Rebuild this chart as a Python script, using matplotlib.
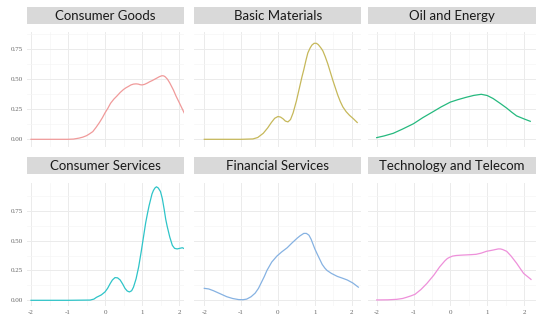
import numpy as np
import matplotlib
matplotlib.use("Agg")
import matplotlib.pyplot as plt

W, H = 550, 329

titles = ["Consumer Goods", "Basic Materials", "Oil and Energy",
          "Consumer Services", "Financial Services", "Technology and Telecom"]
colors = ["#F09A9A", "#C6B85A", "#25B97E", "#2EC4C8", "#86B2E2", "#EE90DA"]

# density curves (x, y)
goods_x = [-2.0, -1.5, -1.0, -0.85, -0.7, -0.6, -0.5, -0.42, -0.33, -0.24, -0.15, -0.07, 0.0, 0.08, 0.15, 0.24, 0.32, 0.41, 0.5, 0.57, 0.63, 0.7, 0.77, 0.84, 0.9, 0.95, 1.0, 1.07, 1.14, 1.21, 1.28, 1.34, 1.4, 1.47, 1.54, 1.59, 1.63, 1.69, 1.75, 1.8, 1.85, 1.92, 2.0, 2.07, 2.14]
goods_y = [0.0, 0.0, 0.0, 0.002, 0.01, 0.018, 0.03, 0.045, 0.064, 0.1, 0.14, 0.18, 0.22, 0.26, 0.3, 0.335, 0.36, 0.39, 0.415, 0.43, 0.44, 0.453, 0.46, 0.462, 0.46, 0.455, 0.453, 0.458, 0.468, 0.48, 0.49, 0.5, 0.51, 0.522, 0.53, 0.528, 0.52, 0.5, 0.47, 0.44, 0.41, 0.36, 0.31, 0.265, 0.22]

basic_x = [-2.0, -1.5, -1.0, -0.68, -0.55, -0.4, -0.28, -0.18, -0.09, 0.0, 0.07, 0.14, 0.2, 0.27, 0.34, 0.41, 0.5, 0.59, 0.65, 0.7, 0.76, 0.81, 0.87, 0.92, 0.98, 1.04, 1.09, 1.13, 1.18, 1.22, 1.28, 1.35, 1.42, 1.49, 1.56, 1.62, 1.69, 1.76, 1.85, 1.94, 2.05, 2.15]
basic_y = [0.0, 0.0, 0.0, 0.003, 0.015, 0.05, 0.095, 0.14, 0.175, 0.19, 0.185, 0.17, 0.152, 0.145, 0.165, 0.22, 0.32, 0.44, 0.52, 0.58, 0.66, 0.72, 0.76, 0.785, 0.8, 0.8, 0.79, 0.775, 0.755, 0.735, 0.69, 0.63, 0.56, 0.49, 0.425, 0.37, 0.315, 0.27, 0.23, 0.2, 0.17, 0.14]

oil_x = [-2.0, -1.8, -1.55, -1.3, -1.0, -0.75, -0.47, -0.25, 0.0, 0.2, 0.43, 0.64, 0.84, 1.0, 1.16, 1.35, 1.53, 1.67, 1.8, 2.0, 2.17]
oil_y = [0.014, 0.028, 0.05, 0.085, 0.13, 0.18, 0.23, 0.27, 0.31, 0.33, 0.35, 0.366, 0.375, 0.365, 0.34, 0.3, 0.26, 0.225, 0.195, 0.17, 0.15]

serv_x = [-2.0, -1.0, -0.4, -0.3, -0.23, -0.1, 0.0, 0.07, 0.14, 0.2, 0.27, 0.34, 0.41, 0.48, 0.54, 0.6, 0.66, 0.72, 0.77, 0.84, 0.91, 0.98, 1.05, 1.1, 1.15, 1.19, 1.23, 1.27, 1.31, 1.35, 1.39, 1.44, 1.5, 1.55, 1.6, 1.64, 1.68, 1.75, 1.82, 1.88, 1.95, 2.02, 2.09, 2.16]
serv_y = [0.0, 0.0, 0.002, 0.01, 0.025, 0.045, 0.07, 0.1, 0.14, 0.17, 0.19, 0.188, 0.17, 0.135, 0.1, 0.078, 0.07, 0.08, 0.11, 0.18, 0.28, 0.41, 0.55, 0.65, 0.73, 0.79, 0.84, 0.89, 0.92, 0.94, 0.95, 0.94, 0.91, 0.85, 0.76, 0.68, 0.62, 0.53, 0.46, 0.435, 0.43, 0.435, 0.44, 0.43]

fin_x = [-2.0, -1.88, -1.75, -1.57, -1.39, -1.23, -1.07, -0.95, -0.85, -0.73, -0.62, -0.53, -0.45, -0.37, -0.3, -0.17, -0.03, 0.1, 0.25, 0.38, 0.52, 0.6, 0.7, 0.77, 0.84, 0.9, 0.95, 1.0, 1.06, 1.13, 1.2, 1.27, 1.33, 1.45, 1.61, 1.75, 1.88, 2.03, 2.18]
fin_y = [0.10, 0.095, 0.08, 0.055, 0.03, 0.015, 0.006, 0.005, 0.01, 0.03, 0.06, 0.1, 0.15, 0.2, 0.25, 0.32, 0.37, 0.405, 0.44, 0.48, 0.52, 0.54, 0.56, 0.56, 0.545, 0.51, 0.47, 0.43, 0.39, 0.345, 0.3, 0.27, 0.25, 0.225, 0.20, 0.185, 0.17, 0.145, 0.11]

tech_x = [-2.0, -1.7, -1.46, -1.3, -1.19, -1.08, -0.96, -0.8, -0.64, -0.45, -0.29, -0.15, -0.08, -0.02, 0.06, 0.16, 0.3, 0.43, 0.56, 0.7, 0.84, 0.98, 1.15, 1.3, 1.36, 1.42, 1.53, 1.65, 1.8, 1.9, 1.99, 2.09, 2.19]
tech_y = [0.003, 0.004, 0.008, 0.015, 0.025, 0.036, 0.05, 0.09, 0.14, 0.21, 0.28, 0.33, 0.35, 0.36, 0.37, 0.375, 0.378, 0.38, 0.382, 0.385, 0.395, 0.41, 0.42, 0.43, 0.43, 0.425, 0.41, 0.37, 0.31, 0.265, 0.225, 0.2, 0.175]

series = [(goods_x, goods_y), (basic_x, basic_y), (oil_x, oil_y),
          (serv_x, serv_y), (fin_x, fin_y), (tech_x, tech_y)]

x_ticks = [-2, -1, 0, 1, 2]
y_ticks = [0.0, 0.25, 0.5, 0.75]
y_labels = ["0.00", "0.25", "0.50", "0.75"]

# panel extents in pixels: (left, right)
cols = [(26.7, 184.3), (194.3, 361.0), (368.3, 535.7)]
rows = [(32.0, 146.5), (182.5, 305.5)]       # panel top, bottom
strips = [(7.0, 24.0), (157.0, 174.0)]       # strip top, bottom


def px_to_x(col, p):
    # -2 and 2 gridline positions in each column
    g = [(31.0, 179.0), (204.3, 351.7), (376.7, 524.0)][col]
    return -2 + 4 * (p - g[0]) / (g[1] - g[0])


def px_to_y(row, p):
    z, q = [(139.3, 49.3), (300.3, 210.7)][row]
    return 0.75 * (z - p) / (z - q)


fig = plt.figure(figsize=(W / 100, H / 100), dpi=100)

for i, (sx, sy) in enumerate(series):
    r, c = divmod(i, 3)
    l, rgt = cols[c]
    t, b = rows[r]
    ax = fig.add_axes([l / W, 1 - b / H, (rgt - l) / W, (b - t) / H])
    ax.plot(sx, sy, color=colors[i], lw=0.9)
    ax.set_xlim(px_to_x(c, l), px_to_x(c, rgt))
    ax.set_ylim(px_to_y(r, b), px_to_y(r, t))
    ax.set_xticks(x_ticks)
    ax.set_yticks(y_ticks)
    ax.set_xticks([-1.5, -0.5, 0.5, 1.5], minor=True)
    ax.set_yticks([0.125, 0.375, 0.625, 0.875], minor=True)
    ax.grid(True, which="major", color="#EBEBEB", lw=0.7)
    ax.grid(True, which="minor", color="#F5F5F5", lw=0.5)
    ax.set_axisbelow(True)
    for s in ax.spines.values():
        s.set_visible(False)
    ax.tick_params(which="both", length=0, labelsize=5, labelcolor="#666666", pad=3)
    if c == 0:
        ax.set_yticklabels(y_labels, family="Liberation Serif")
    else:
        ax.set_yticklabels([])
    if r == 1:
        ax.set_xticklabels([str(v) for v in x_ticks], family="Liberation Serif")
    else:
        ax.set_xticklabels([])

    st, sb = strips[r]
    sa = fig.add_axes([l / W, 1 - sb / H, (rgt - l) / W, (sb - st) / H])
    sa.set_facecolor("#D9D9D9")
    sa.set_xticks([])
    sa.set_yticks([])
    for s in sa.spines.values():
        s.set_visible(False)
    sa.text(0.5, 0.45, titles[i], ha="center", va="center", fontsize=9.5,
            family="Lato", color="#1A1A1A", transform=sa.transAxes)

fig.savefig("out.png", dpi=100, facecolor="white")
